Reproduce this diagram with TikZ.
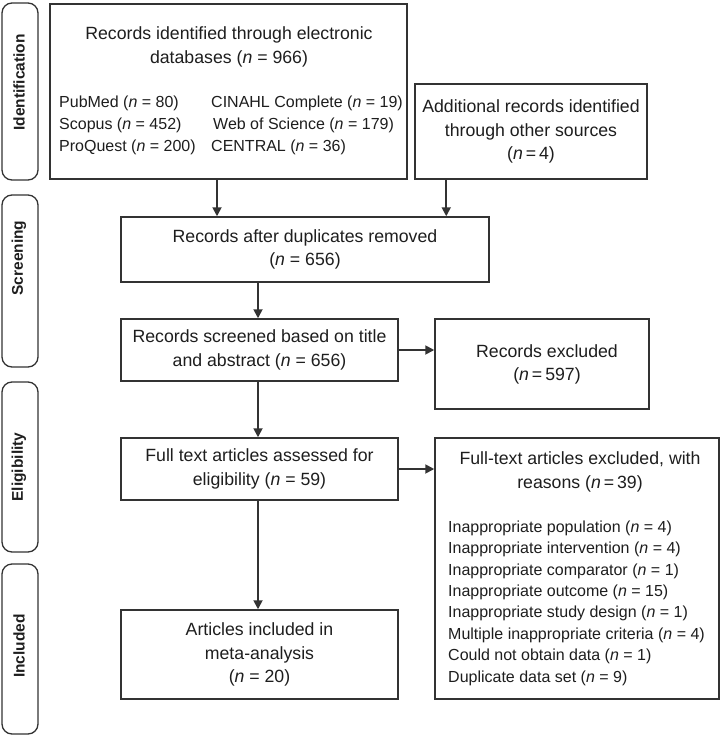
\documentclass[tikz,border=0pt]{standalone}
\usepackage{fontspec}
\setmainfont{Liberation Sans}
\usetikzlibrary{arrows.meta,calc}
\definecolor{ink}{HTML}{1E1E1E}
\definecolor{edge}{HTML}{333333}
\begin{document}
\begin{tikzpicture}[x=1pt,y=-1pt,
  every node/.style={text=ink},
  box/.style={draw=edge, line width=1.5pt, inner sep=0pt, align=center,
    font=\fontsize{17.7}{23.5}\selectfont},
  side/.style={draw=edge, line width=1.3pt, rounded corners=10pt, inner sep=0pt,
    minimum width=36pt},
  sidetext/.style={rotate=90, font=\fontsize{15.5}{18}\selectfont\bfseries, inner sep=0pt},
  small/.style={inner sep=0pt, align=left, anchor=west,
    font=\fontsize{16}{22}\selectfont},
  arr/.style={draw=edge, line width=1.8pt, -{Triangle[length=9pt,width=9pt]}}
]
\useasboundingbox (0,0) rectangle (722,736);
\fill[white] (0,0) rectangle (722,736);

% side labels
\node[side, minimum height=177pt] (sid) at (20,91.5) {};
\node[sidetext] (tid) at (19,82.5) {Identification};
\node[side, minimum height=172pt] (ssc) at (20,281) {};
\node[sidetext] (tsc) at (19,258) {Screening};
\node[side, minimum height=170pt] (sel) at (20,467) {};
\node[sidetext] (tel) at (19,467) {Eligibility};
\node[side, minimum height=170pt] (sin) at (20,649) {};
\node[sidetext] (tin) at (19,646) {Included};

% box 1
\node[box, minimum width=357pt, minimum height=175pt] (b1) at (228.5,91.5) {};
\node[box, draw=none] (b1t) at (229,47) {Records identified through electronic\\databases (\textit{n} = 966)};
\node[small] (b1l) at (59,125) {PubMed (\textit{n} = 80)\\Scopus (\textit{n} = 452)\\ProQuest (\textit{n} = 200)};
\node[small] (b1r) at (211,125) {CINAHL Complete (\textit{n} = 19)\\\hspace*{2pt}Web of Science (\textit{n} = 179)\\CENTRAL (\textit{n} = 36)};

% box 2
\node[box, minimum width=232pt, minimum height=95pt] (b2) at (531,131.5) {Additional records identified\\through other sources\\(\textit{n}\,=\,4)};

% box 3
\node[box, minimum width=368pt, minimum height=65pt] (b3) at (305,249.5) {Records after duplicates removed\\(\textit{n} = 656)};

% box 4
\node[box, minimum width=277pt, minimum height=62pt] (b4) at (259.5,350) {Records screened based on title\\and abstract (\textit{n} = 656)};
\node[box, minimum width=214pt, minimum height=90pt] (x1) at (542,364) {};
\node[box, draw=none] (x1t) at (547,364.5) {Records excluded\\(\textit{n}\,=\,597)};

% box 5
\node[box, minimum width=277pt, minimum height=62pt] (b5) at (259.5,469) {Full text articles assessed for\\eligibility (\textit{n} = 59)};
\node[box, minimum width=284pt, minimum height=261pt] (x2) at (577,568.5) {};
\node[box, draw=none] (x2t) at (580,472) {Full-text articles excluded, with\\reasons (\textit{n}\,=\,39)};
\node[small, font=\fontsize{16}{21.4}\selectfont] (x2l) at (448,603) {Inappropriate population (\textit{n} = 4)\\
Inappropriate intervention (\textit{n} = 4)\\
Inappropriate comparator (\textit{n} = 1)\\
Inappropriate outcome (\textit{n} = 15)\\
Inappropriate study design (\textit{n} = 1)\\
Multiple inappropriate criteria (\textit{n} = 4)\\
Could not obtain data (\textit{n} = 1)\\
Duplicate data set (\textit{n} = 9)};

% box 6
\node[box, minimum width=277pt, minimum height=89pt] (b6) at (259.5,654.5) {Articles included in\\meta-analysis\\(\textit{n} = 20)};

% arrows
\coordinate (a1) at ([xshift=-11.5pt]b1.south);
\coordinate (a2) at ([xshift=32pt]b2.south west);
\coordinate (a3) at ([xshift=-1.5pt]b4.north);
\draw[arr] (a1) -- (a1 |- b3.north);
\draw[arr] (a2) -- (a2 |- b3.north);
\draw[arr] (a3 |- b3.south) -- (a3);
\draw[arr] (a3 |- b4.south) -- (a3 |- b5.north);
\draw[arr] (a3 |- b5.south) -- (a3 |- b6.north);
\draw[arr] (b4.east) -- (b4.east -| x1.west);
\draw[arr] (b5.east) -- (b5.east -| x2.west);
\end{tikzpicture}
\end{document}
